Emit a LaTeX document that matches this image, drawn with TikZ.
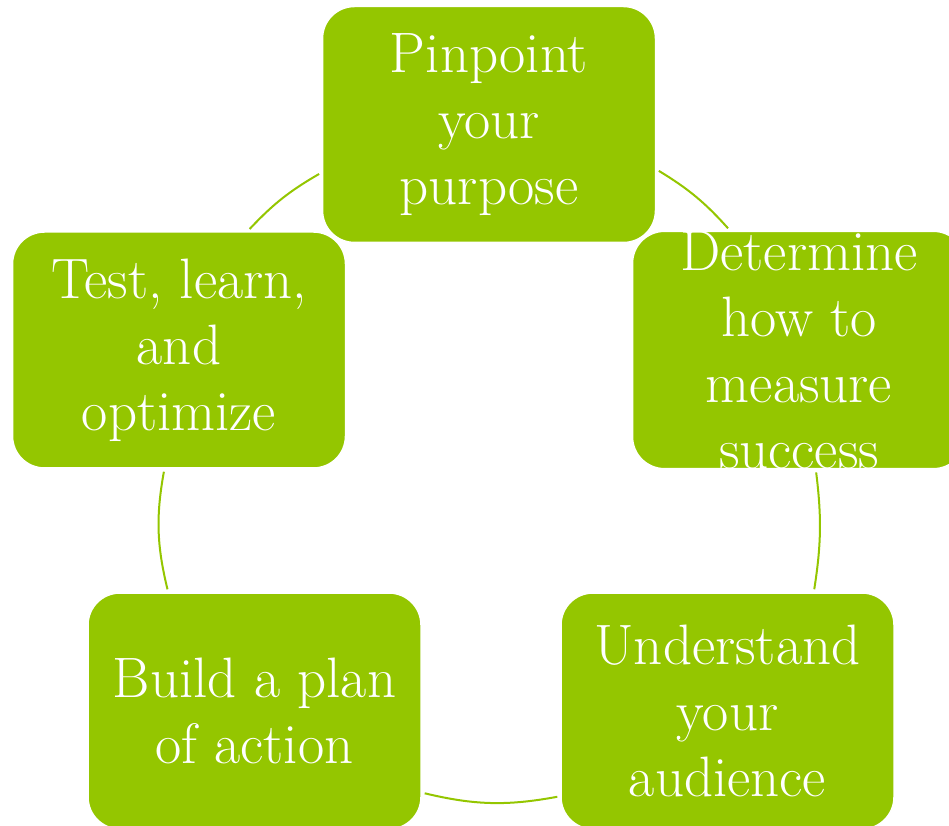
\documentclass[tikz,border=0pt]{standalone}
\usepackage{xcolor}
\usepackage{tikz}
\usetikzlibrary{backgrounds}

\definecolor{cyclegreen}{RGB}{148,198,0}

\begin{document}
\begin{tikzpicture}[x=1pt, y=1pt,
    stagebox/.style={rectangle, rounded corners=32pt, fill=cyclegreen, draw=white, line width=1.5pt,
        minimum width=333pt, minimum height=236pt, inner sep=0pt, align=center, text=white,
        font=\fontsize{57}{66}\selectfont},
    cyclearc/.style={cyclegreen, line width=2pt, shorten <=3pt, shorten >=3pt}]
    \useasboundingbox (0,0) rectangle (949,825);

    % Stages of the cycle
    \node[stagebox] (pinpoint) at (489,700.5) {Pinpoint\\your\\purpose};
    \node[stagebox] (determine) at (799,475) {Determine\\how to\\measure\\success};
    \node[stagebox] (understand) at (727.5,114) {Understand\\your\\audience};
    \node[stagebox] (build) at (254.5,114) {Build a plan\\of action};
    \node[stagebox] (test) at (179,475) {Test, learn,\\and\\optimize};

    % Arcs between the stages, behind the boxes
    \begin{pgfonlayer}{background}
    \draw[cyclearc] (test.60) to[bend left=8.5] (pinpoint.196);
    \draw[cyclearc] (pinpoint.-15.6) to[bend left=8.5] (determine.120);
    \draw[cyclearc] (determine.-82.3) to[bend left=8] (understand.54);
    \draw[cyclearc] (understand.207.5) to[bend left=12] (build.-26.6);
    \draw[cyclearc] (build.126) to[bend left=12] (test.-97.7);
    \end{pgfonlayer}
\end{tikzpicture}
\end{document}
